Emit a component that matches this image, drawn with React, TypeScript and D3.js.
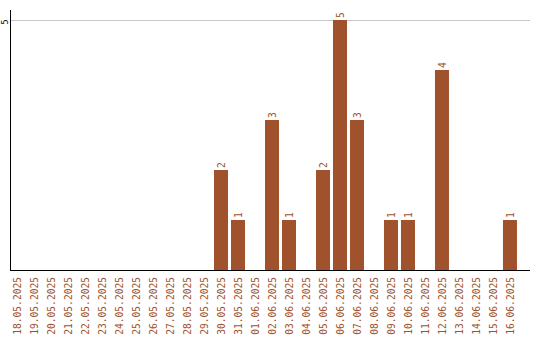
import React from "react";
import * as d3 from "d3";

const categories: string[] = [
  "18.05.2025", "19.05.2025", "20.05.2025", "21.05.2025", "22.05.2025",
  "23.05.2025", "24.05.2025", "25.05.2025", "26.05.2025", "27.05.2025",
  "28.05.2025", "29.05.2025", "30.05.2025", "31.05.2025", "01.06.2025",
  "02.06.2025", "03.06.2025", "04.06.2025", "05.06.2025", "06.06.2025",
  "07.06.2025", "08.06.2025", "09.06.2025", "10.06.2025", "11.06.2025",
  "12.06.2025", "13.06.2025", "14.06.2025", "15.06.2025", "16.06.2025",
];
const values: number[] = [
  0, 0, 0, 0, 0, 0, 0, 0, 0, 0, 0, 0, 2, 1, 0, 3, 1, 0, 2, 5, 3, 0, 1, 1, 0, 4, 0, 0, 0, 1,
];
const yTicks: number[] = [5];

const W = 540;
const H = 340;
const COLOR = "#a0522d";
const FONT = "'DejaVu Sans Mono', monospace";

export default function App() {
  const x = d3
    .scaleBand<string>()
    .domain(categories)
    .range([8.5, 8.5 + 17 * categories.length])
    .paddingInner(3 / 17)
    .paddingOuter(0.09);
  const y = d3.scaleLinear().domain([0, 5]).range([270, 20]);

  return (
    <svg
      width={W}
      height={H}
      style={{ position: "absolute", left: 0, top: 0, background: "#fff" }}
    >
      {yTicks.map((t) => (
        <g key={t}>
          <line x1={11} x2={530} y1={y(t) + 0.5} y2={y(t) + 0.5} stroke="#c8c8c8" strokeWidth={1} />
          <text
            transform={`translate(7.5,${y(t) + 2}) rotate(-90)`}
            textAnchor="middle"
            fontFamily={FONT}
            fontSize={8.5}
            fill="#000"
          >
            {t}
          </text>
        </g>
      ))}
      {categories.map((c, i) => {
        const v = values[i];
        const bx = x(c)!;
        const bw = x.bandwidth();
        const cx = bx + bw / 2;
        return (
          <g key={c}>
            {v > 0 && (
              <>
                <rect x={bx} y={y(v)} width={bw} height={y(0) - y(v)} fill={COLOR} />
                <text
                  transform={`translate(${cx + 4},${y(v) - 2}) rotate(-90)`}
                  textAnchor="start"
                  fontFamily={FONT}
                  fontSize={9.6}
                  fill={COLOR}
                >
                  {v}
                </text>
              </>
            )}
            <text
              transform={`translate(${cx + 4},277) rotate(-90)`}
              textAnchor="end"
              fontFamily={FONT}
              fontSize={9.6}
              fill={COLOR}
            >
              {c}
            </text>
          </g>
        );
      })}
      <line x1={10.5} x2={10.5} y1={10} y2={270} stroke="#000" strokeWidth={1} />
      <line x1={10} x2={530} y1={270.5} y2={270.5} stroke="#000" strokeWidth={1} />
    </svg>
  );
}
